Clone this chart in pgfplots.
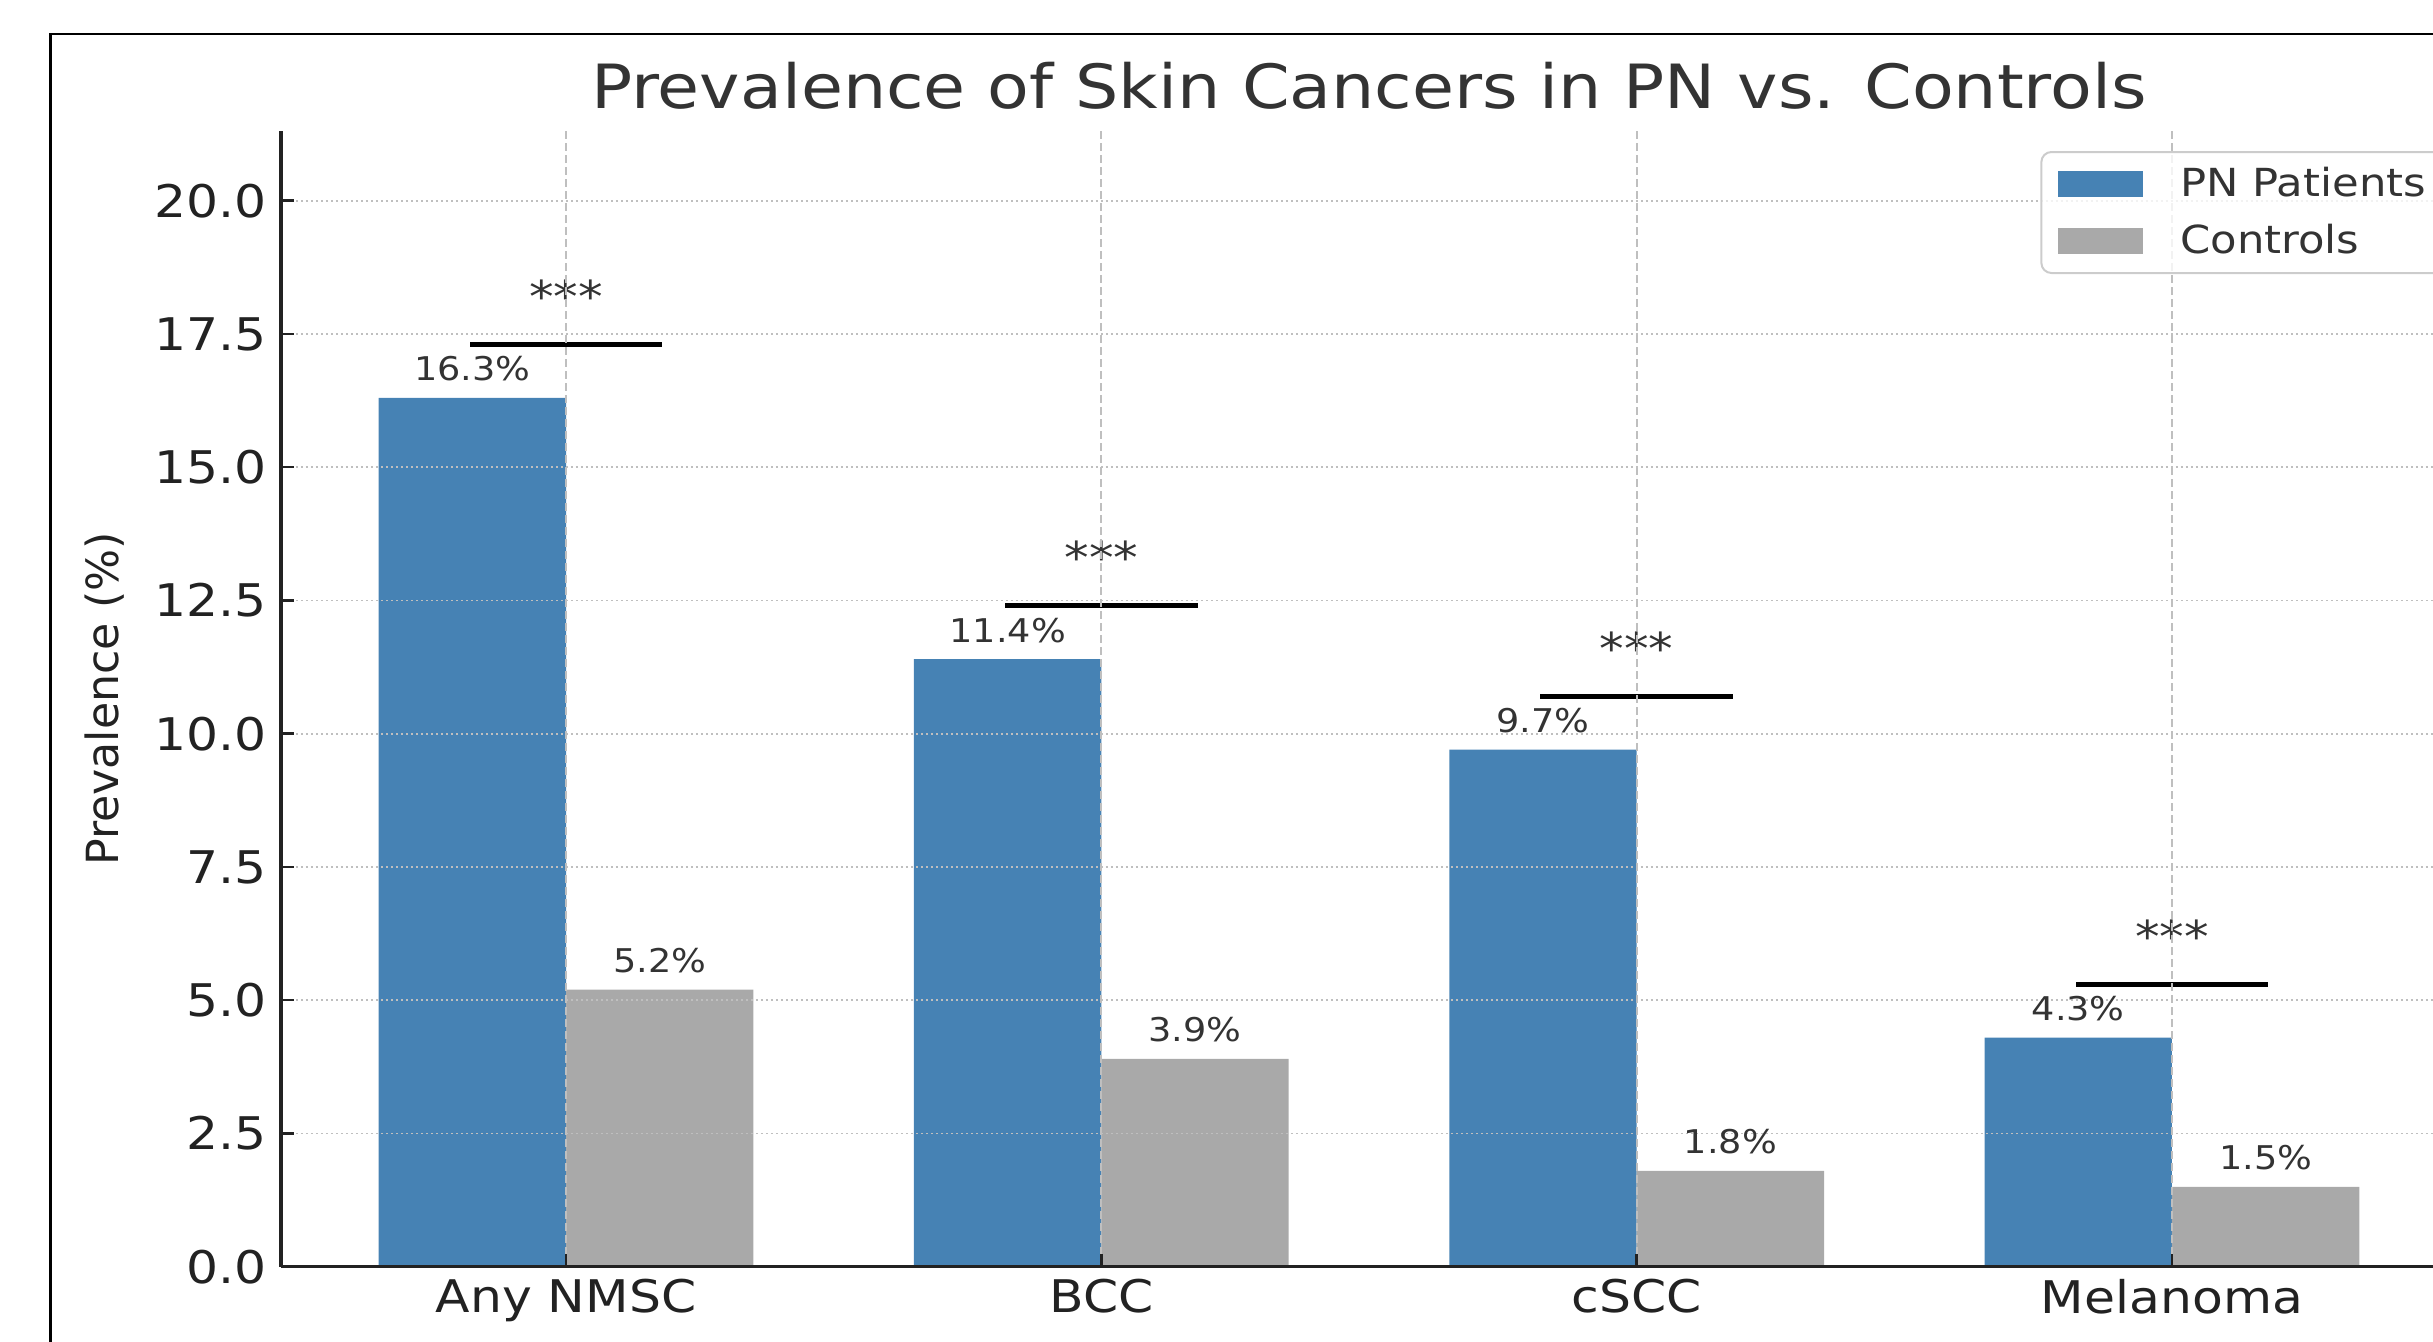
\documentclass[border=0pt]{standalone}
\usepackage{fontspec}
\setmainfont[FakeStretch=1.12]{DejaVu Sans}
\newfontfamily\ylabfont{DejaVu Sans}
\usepackage{pgfplots}
\pgfplotsset{compat=1.18}
\definecolor{steelblue}{HTML}{4682B4}
\definecolor{dgray}{HTML}{A9A9A9}
\definecolor{txt}{HTML}{333333}
\definecolor{tickc}{HTML}{222222}
\begin{document}
\begin{tikzpicture}
\begin{axis}[
  at={(0,0)}, anchor=south west,
  scale only axis, width=217.6mm, height=113.53mm,
  xmin=-0.5325, xmax=3.5325, ymin=0, ymax=21.3,
  axis x line=bottom, axis y line=left,
  axis line style={-, line width=0.33mm, draw=tickc},
  tick align=inside, major tick length=1.3mm,
  tick style={line width=0.25mm, draw=tickc},
  xtick={0,1,2,3}, xticklabels={Any NMSC,BCC,cSCC,Melanoma},
  ytick={0,2.5,5,7.5,10,12.5,15,17.5,20},
  xticklabel style={font=\fontsize{12.8}{15}\selectfont, text=tickc},
  yticklabel style={font=\fontsize{12.8}{15}\selectfont, text=tickc, xshift=-0.2mm,
     /pgf/number format/.cd, fixed, fixed zerofill, precision=1, assume math mode=true},
  xmajorgrids, ymajorgrids,
  x grid style={dash pattern=on 0.8mm off 0.4mm, line width=0.2mm, draw=black!25},
  y grid style={dash pattern=on 0.2mm off 0.3mm, line width=0.18mm, draw=black!25},
  axis on top,
  title={Prevalence of Skin Cancers in PN vs. Controls},
  every axis title/.style={at={(0.5,1)}, anchor=base, yshift=2.3mm, font=\fontsize{17.35}{20}\selectfont, text=txt},
  ylabel={Prevalence (\%)},
  every axis y label/.style={at={(axis description cs:-0.0811,0.5)}, rotate=90, anchor=center, font=\ylabfont\fontsize{12.6}{15}\selectfont, text=tickc},
  legend cell align=left,
  legend style={at={(1,1)}, anchor=north east, xshift=-1.3mm, yshift=-1.96mm,
     draw=black!20, line width=0.2mm, rounded corners=1mm, fill=white, fill opacity=0.8, text opacity=1,
     inner xsep=1.7mm, inner ysep=1.6mm, row sep=2.5mm, column sep=3.7mm,
     font=\fontsize{11}{13}\selectfont, text=txt,
     nodes={inner sep=0pt, text height=2.8mm, text depth=0.4mm, anchor=west}},
]
\addplot[ybar, bar width=0.35, bar shift=0pt, fill=steelblue, draw=none,
  nodes near coords={\pgfmathprintnumber[fixed,fixed zerofill,precision=1,assume math mode=true]{\pgfplotspointmeta}\%},
  nodes near coords style={font=\fontsize{9.3}{11}\selectfont, text=txt, anchor=base, yshift=1.7mm},
  legend image code/.code={\fill[steelblue, sharp corners, fill opacity=1] (0mm,-1.3mm) rectangle (8.5mm,1.3mm);}]
  coordinates {(-0.175,16.3) (0.825,11.4) (1.825,9.7) (2.825,4.3)};
\addlegendentry{PN Patients}
\addplot[ybar, bar width=0.35, bar shift=0pt, fill=dgray, draw=none,
  nodes near coords={\pgfmathprintnumber[fixed,fixed zerofill,precision=1,assume math mode=true]{\pgfplotspointmeta}\%},
  nodes near coords style={font=\fontsize{9.3}{11}\selectfont, text=txt, anchor=base, yshift=1.7mm},
  legend image code/.code={\fill[dgray, sharp corners, fill opacity=1] (0mm,-1.3mm) rectangle (8.5mm,1.3mm);}]
  coordinates {(0.175,5.2) (1.175,3.9) (2.175,1.8) (3.175,1.5)};
\addlegendentry{Controls}
\addplot[black, line width=0.5mm, line cap=rect, forget plot] coordinates {(-0.175,17.3) (0.175,17.3)};
\addplot[black, line width=0.5mm, line cap=rect, forget plot] coordinates {(0.825,12.4) (1.175,12.4)};
\addplot[black, line width=0.5mm, line cap=rect, forget plot] coordinates {(1.825,10.7) (2.175,10.7)};
\addplot[black, line width=0.5mm, line cap=rect, forget plot] coordinates {(2.825,5.3) (3.175,5.3)};
\node[anchor=base, font=\fontsize{12.5}{14}\selectfont, text=txt] at (axis cs:0,17.9) {***};
\node[anchor=base, font=\fontsize{12.5}{14}\selectfont, text=txt] at (axis cs:1,13.0) {***};
\node[anchor=base, font=\fontsize{12.5}{14}\selectfont, text=txt] at (axis cs:2,11.3) {***};
\node[anchor=base, font=\fontsize{12.5}{14}\selectfont, text=txt] at (axis cs:3,5.9) {***};
\end{axis}
\draw[line width=0.25mm, black] (-23.05mm,-20mm) -- (-23.05mm,123.27mm) -- (240mm,123.27mm);
\pgfresetboundingbox
\path[use as bounding box] (-28.1mm,-7.43mm) rectangle (215.2mm,126.67mm);
\end{tikzpicture}
\end{document}
